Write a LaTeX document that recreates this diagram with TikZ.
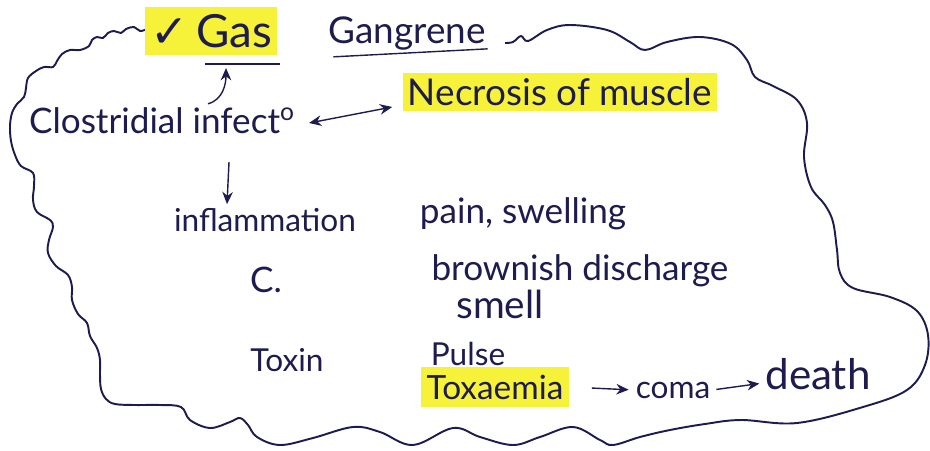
\documentclass[tikz,border=0pt]{standalone}
\usepackage{fontspec}
\setmainfont{Lato}
\newfontfamily\symfont{DejaVu Sans}
\usepackage{xcolor}
\definecolor{ink}{HTML}{1E1C4E}
\definecolor{marker}{HTML}{F6F23A}
\usetikzlibrary{arrows.meta, calc}

\begin{document}
\begin{tikzpicture}[x=0.02cm, y=-0.02cm]
    \tikzstyle{txt}=[text=ink, inner sep=1pt, font=\fontsize{20}{24}\selectfont]
    \tikzstyle{hl}=[txt, fill=marker, inner sep=3pt]
    \tikzstyle{arr}=[-{Stealth[length=7pt, width=6pt]}, thick, color=ink]
    \tikzstyle{cloud}=[draw=ink, line width=1.1pt, line join=round]

    \useasboundingbox (0,0) rectangle (930,450);

    % outline round the notes
    \draw[cloud] plot[smooth, tension=0.6] coordinates {
      (147,29) (140,31) (134,27) (126,29) (121,33) (114,31) (108,33) (103,38)
      (97,37) (92,40) (89,46) (80,50) (70,50) (62,54) (57,61) (53,67) (44,67)
      (36,71) (28,78) (26,88) (24,97) (17,104) (12,113) (10,126) (11,141)
      (15,155) (21,166) (33,173) (34,186) (33,200) (37,212) (50,220) (53,227)
      (49,240) (48,253) (56,266) (68,275) (72,287) (72,300) (78,314) (87,323)
      (90,336) (97,348) (100,360) (100,375) (101,389) (106,399) (115,404)
      (135,405) (160,405) (181,407) (190,420) (210,428) (230,422) (240,418)
      (248,425) (257,437) (280,445) (313,438) (353,427) (380,432) (413,445)
      (453,428) (480,437) (513,445) (540,437) (573,427) (600,440) (613,445)
      (640,437) (670,430) (705,424) (741,420) (797,423) (863,407) (907,390)
      (925,365) (928,335) (917,311) (890,297) (853,288) (840,273) (837,250)
      (833,222) (825,205) (811,187) (804,157) (807,123) (797,100) (773,86)
      (755,77) (747,60) (731,44) (700,37) (667,42) (645,50) (630,42) (607,30)
      (570,25) (547,30) (528,41) (521,36) (513,42) (505,43)};

    % title
    \node[hl, minimum width=2.44cm, minimum height=0.96cm,
          font=\fontsize{26}{30}\selectfont] (gas) at (211,31) {{\symfont ✓}\,Gas};
    \node[txt, font=\fontsize{21}{24}\selectfont] (gang) at (407,33) {Gangrene};
    \draw[ink, thick] ($(gang.south west)+(7,5)$) -- ($(gang.south east)+(0,-3)$);

    \coordinate (barl) at (205,64);
    \coordinate (barr) at (280,64);
    \draw[ink, thick] (barl) -- (barr);

    \node[txt] (infect) at (162,121) {Clostridial infect\textsuperscript{o}};
    \node[hl, minimum width=6.3cm, minimum height=0.66cm,
          font=\fontsize{21}{24}\selectfont] (necro) at (560,92) {Necrosis of muscle};

    \node[txt, font=\fontsize{18}{22}\selectfont] (inflam) at (265,220) {inflammation};
    \node[txt] (pain) at (523,214) {pain, swelling};
    \node[txt] (cee) at (266,280) {C.};
    \node[txt] (brown) at (580,271) {brownish discharge};
    \node[txt, font=\fontsize{22}{26}\selectfont] (smell) at (500,304) {smell};

    \node[txt, font=\fontsize{18}{22}\selectfont] (toxin) at (287,360) {Toxin};
    \node[txt, font=\fontsize{18}{22}\selectfont] (pulse) at (468,354) {Pulse};
    \node[hl, minimum width=2.96cm, minimum height=0.8cm,
          font=\fontsize{19}{22}\selectfont] (toxa) at (495,387) {Toxaemia};
    \node[txt, font=\fontsize{18}{22}\selectfont] (coma) at (673,390) {coma};
    \node[txt, font=\fontsize{24}{28}\selectfont] (death) at (818,374) {death};

    \draw[arr] ($(infect.north)+(46,-2)$) to[out=15, in=-90] ($(barl)!0.28!(barr)+(0,4)$);
    \draw[arr, {Stealth[length=7pt, width=6pt]}-{Stealth[length=7pt, width=6pt]}]
        ($(infect.east)+(12,2)$) -- ($(necro.west)+(-10,15)$);
    \draw[arr] ($(infect.south)+(67,26)$) -- ($(inflam.north)+(-38,-2)$);
    \draw[arr, shorten <=0.45cm, shorten >=0.1cm] (toxa.east) -- (coma.west);
    \draw[arr, shorten <=0.08cm, shorten >=0.08cm] (coma.east) -- ($(death.west)+(0,9)$);
\end{tikzpicture}
\end{document}
